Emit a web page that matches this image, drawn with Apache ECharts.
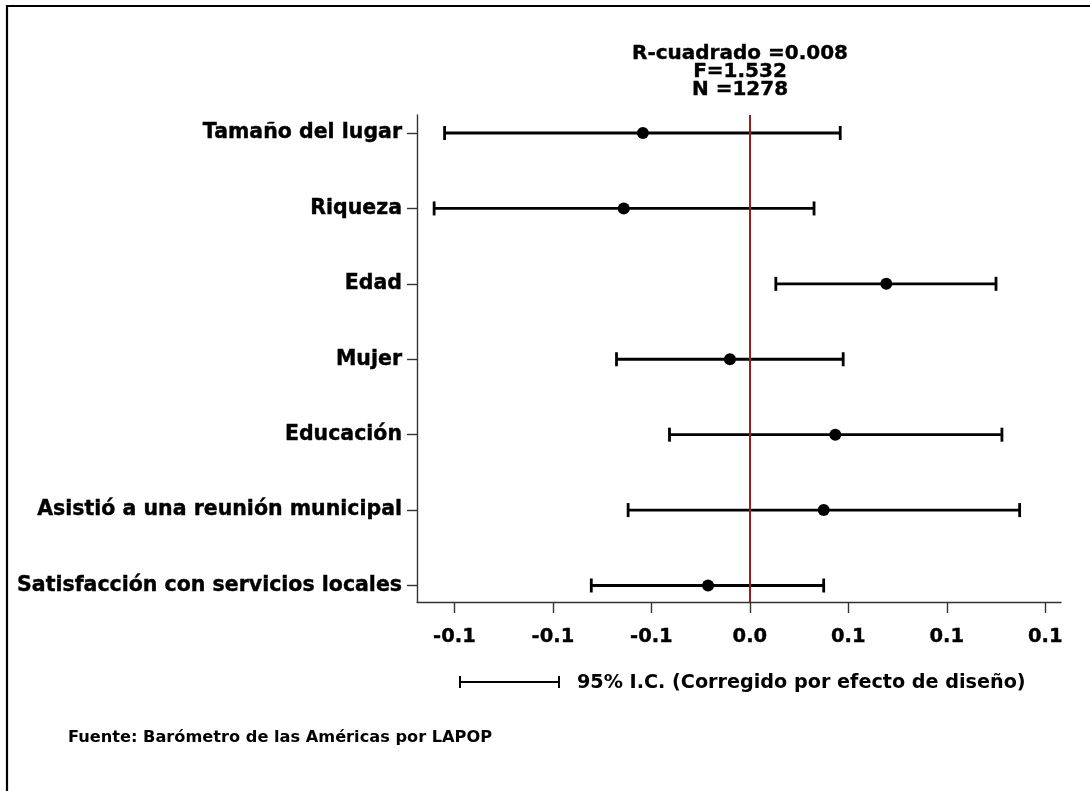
<!DOCTYPE html>
<html>
<head>
<meta charset="utf-8">
<script src="https://cdn.jsdelivr.net/npm/echarts@6/dist/echarts.min.js"></script>
<style>
  html, body { margin: 0; padding: 0; background: #fff; }
  #chart { width: 1090px; height: 791px; }
</style>
</head>
<body>
<div id="chart"></div>
<script>
// variables, top to bottom
const categories = ['Tamaño del lugar', 'Riqueza', 'Edad', 'Mujer', 'Educación',
  'Asistió a una reunión municipal', 'Satisfacción con servicios locales'];
const estimates = [-0.0543, -0.064, 0.0693, -0.0101, 0.0434, 0.0375, -0.0212];
const lowerCI = [-0.155, -0.1603, 0.0132, -0.0677, -0.0408, -0.0618, -0.0805];
const upperCI = [0.0459, 0.0326, 0.125, 0.0474, 0.128, 0.137, 0.0375];
const tickValues = [-0.15, -0.1, -0.05, 0, 0.05, 0.1, 0.15];
const tickLabels = ['-0.1', '-0.1', '-0.1', '0.0', '0.1', '0.1', '0.1'];
const statLines = ['R-cuadrado =0.008', 'F=1.532', 'N =1278'];

const FONT = '"DejaVu Sans", "Liberation Sans", Arial, sans-serif';
const chart = echarts.init(document.getElementById('chart'));

const ciData = categories.map((c, i) => [lowerCI[i], upperCI[i], i]);
const pointData = categories.map((c, i) => [estimates[i], i]);
const catIdx = categories.map((c, i) => i);

chart.setOption({
  animation: false,
  grid: { left: 417, right: 29, top: 115, bottom: 189 },
  xAxis: {
    type: 'value',
    min: -0.169,
    max: 0.158,
    splitLine: { show: false },
    axisLine: { onZero: false, lineStyle: { color: '#333', width: 1.4 } },
    axisTick: { customValues: tickValues, length: 11, lineStyle: { color: '#333', width: 1.4 } },
    axisLabel: {
      customValues: tickValues,
      margin: 25,
      color: '#000',
      fontFamily: FONT,
      fontWeight: 'bold',
      fontSize: 19.5,
      textBorderColor: '#000',
      textBorderWidth: 0.4,
      formatter: v => tickLabels[tickValues.findIndex(t => Math.abs(t - v) < 1e-6)]
    }
  },
  yAxis: {
    type: 'value',
    inverse: true,
    min: -0.239,
    max: 6.219,
    splitLine: { show: false },
    axisLine: { onZero: false, lineStyle: { color: '#333', width: 1.4 } },
    axisTick: { customValues: catIdx, length: 10, lineStyle: { color: '#333', width: 1.4 } },
    axisLabel: {
      customValues: catIdx,
      margin: 15,
      color: '#000',
      fontFamily: FONT,
      fontWeight: 'bold',
      fontSize: 20.5,
      textBorderColor: '#000',
      textBorderWidth: 0.4,
      formatter: v => categories[Math.round(v)]
    }
  },
  series: [
    {
      type: 'custom',
      data: ciData,
      z: 3,
      renderItem: (params, api) => {
        const a = api.coord([api.value(0), api.value(2)]);
        const b = api.coord([api.value(1), api.value(2)]);
        const style = { stroke: '#000', lineWidth: 2.8 };
        return {
          type: 'group',
          children: [
            { type: 'line', shape: { x1: a[0], y1: a[1], x2: b[0], y2: b[1] }, style },
            { type: 'line', shape: { x1: a[0], y1: a[1] - 7, x2: a[0], y2: a[1] + 7 }, style },
            { type: 'line', shape: { x1: b[0], y1: b[1] - 7, x2: b[0], y2: b[1] + 7 }, style }
          ]
        };
      },
      markLine: {
        silent: true,
        symbol: 'none',
        label: { show: false },
        lineStyle: { color: '#9b1c1c', width: 2, type: 'solid' },
        data: [{ xAxis: 0 }]
      }
    },
    {
      type: 'scatter',
      data: pointData,
      symbol: 'circle',
      symbolSize: 12,
      z: 4,
      itemStyle: { color: '#000', opacity: 1 }
    }
  ],
  graphic: [
    // outer frame (top and left)
    { type: 'polyline', shape: { points: [[7, 791], [7, 6], [1090, 6]] }, style: { stroke: '#000', lineWidth: 2.2, fill: null } },
    {
      type: 'text', x: 740, y: 45,
      style: {
        text: statLines.join('\n'),
        align: 'center', verticalAlign: 'top',
        font: 'bold 20px ' + FONT, lineHeight: 18, fill: '#000',
        stroke: '#000', lineWidth: 0.4
      }
    },
    // CI legend sample
    { type: 'line', shape: { x1: 460, y1: 682, x2: 559, y2: 682 }, style: { stroke: '#000', lineWidth: 2 } },
    { type: 'line', shape: { x1: 460, y1: 676, x2: 460, y2: 688 }, style: { stroke: '#000', lineWidth: 2 } },
    { type: 'line', shape: { x1: 559, y1: 676, x2: 559, y2: 688 }, style: { stroke: '#000', lineWidth: 2 } },
    {
      type: 'text', x: 577, y: 683,
      style: { text: '95% I.C. (Corregido por efecto de diseño)', verticalAlign: 'middle', font: 'bold 19.2px ' + FONT, fill: '#000' }
    },
    {
      type: 'text', x: 68, y: 738,
      style: { text: 'Fuente: Barómetro de las Américas por LAPOP', verticalAlign: 'middle', font: 'bold 16.2px ' + FONT, fill: '#000' }
    }
  ]
});
</script>
</body>
</html>
